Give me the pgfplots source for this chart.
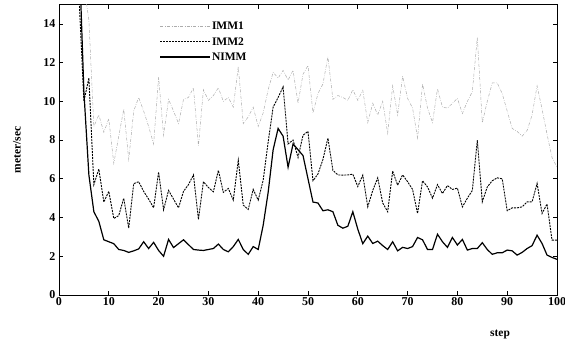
\documentclass[border=0pt]{standalone}
\usepackage{pgfplots}
\usepackage{pgfplotstable}
\pgfplotsset{compat=1.18}
\usepackage{fontspec}
\setmainfont{Liberation Serif}

% speed error of the three filters, per step
\pgfplotstableread{
step imm1 imm2 nimm
1   45    40    45
2   35    30    35
3   26    22    26
4   20    15.5  18
5   16    10.0  10.5
6   14.2  11.2  6.2
7   8.7   5.7   4.3
8   9.3   6.5   3.8
9   8.4   4.8   2.85
10  9.1   5.35  2.75
11  6.8   3.95  2.65
12  8.2   4.1   2.35
13  9.6   5.0   2.3
14  7.0   3.45  2.2
15  9.5   5.75  2.28
16  10.2  5.85  2.38
17  9.5   5.35  2.75
18  8.7   4.95  2.4
19  7.8   4.5   2.72
20  11.25 6.35  2.3
21  8.25  4.4   2.0
22  10.1  5.4   2.87
23  9.5   4.95  2.45
24  8.85  4.5   2.65
25  10.1  5.35  2.85
26  10.2  5.7   2.6
27  10.7  6.2   2.35
28  7.7   3.9   2.32
29  10.6  5.85  2.3
30  10.05 5.55  2.35
31  10.3  5.33  2.4
32  10.7  6.44  2.63
33  10.0  5.3   2.35
34  10.2  5.5   2.23
35  9.7   4.9   2.5
36  11.8  6.96  2.87
37  8.85  4.64  2.35
38  9.2   4.42  2.1
39  9.7   5.45  2.5
40  8.7   4.9   2.35
41  9.4   5.93  3.6
42  10.6  7.9   5.3
43  11.5  9.7   7.5
44  11.2  10.2  8.6
45  11.6  10.75 8.2
46  11.1  7.8   6.6
47  11.6  8.0   7.8
48  9.9   7.1   7.5
49  11.4  8.25  7.2
50  11.85 8.45  6.0
51  9.4   5.9   4.8
52  10.4  6.25  4.75
53  10.9  7.0   4.35
54  12.3  8.1   4.4
55  10.1  6.44  4.3
56  10.3  6.2   3.6
57  10.2  6.19  3.45
58  10.05 6.2   3.55
59  10.6  6.24  4.3
60  10.05 5.6   3.4
61  10.57 6.19  2.65
62  8.9   4.55  3.04
63  9.9   5.4   2.66
64  9.3   6.05  2.78
65  10.0  4.75  2.55
66  8.35  4.3   2.35
67  10.8  6.4   2.75
68  9.3   5.67  2.28
69  11.3  6.2   2.46
70  10.15 5.85  2.4
71  9.65  5.45  2.5
72  8.1   4.21  2.97
73  10.9  5.9   2.85
74  9.65  5.58  2.35
75  8.9   5.0   2.35
76  10.65 5.7   3.14
77  9.7   5.24  2.75
78  9.65  5.65  2.46
79  9.9   5.45  2.97
80  10.15 5.52  2.58
81  9.37  4.55  2.87
82  10.0  5.0   2.32
83  10.5  5.4   2.4
84  13.3  8.0   2.4
85  8.9   4.81  2.7
86  10.0  5.58  2.35
87  10.95 5.9   2.1
88  10.95 6.05  2.18
89  10.4  6.0   2.18
90  9.5   4.35  2.32
91  8.6   4.5   2.28
92  8.45  4.5   2.06
93  8.2   4.55  2.2
94  8.5   4.81  2.4
95  9.3   4.81  2.55
96  10.8  5.76  3.09
97  9.6   4.21  2.66
98  8.3   4.7   2.06
99  7.1   2.83  1.94
100 6.6   2.83  1.84
}\speeddata

\begin{document}
\begin{tikzpicture}
\useasboundingbox (-59pt,-51pt) rectangle (506pt,295pt);
\begin{axis}[
  scale only axis,
  width=498pt, height=290.5pt,
  xmin=0, xmax=100, ymin=0, ymax=15,
  xtick={0,10,...,100},
  ytick={0,2,...,14},
  tick align=inside,
  xtick pos=both, ytick pos=both,
  xticklabel pos=bottom, yticklabel pos=left,
  major tick length=4pt,
  axis line style={line width=0.9pt},
  every tick/.style={line width=0.7pt, black},
  /pgf/number format/assume math mode=true,
  ticklabel style={font=\fontsize{12}{14}\selectfont\bfseries},
  xticklabel style={yshift=1pt},
  xlabel={step},
  ylabel={meter/sec},
  every axis x label/.style={at={([xshift=441pt, yshift=-39pt]axis description cs:0,0)},
    anchor=center, font=\fontsize{11.5}{13}\selectfont\bfseries},
  every axis y label/.style={at={([xshift=-42pt]axis description cs:0,0.5)},
    rotate=90, anchor=center, font=\fontsize{11.5}{13}\selectfont\bfseries},
  legend image code/.code={\draw[#1] (0pt,0pt) -- (50pt,0pt);},
  legend cell align=left,
  legend style={draw=none, fill=none, at={(axis cs:19.6,14.3)}, anchor=north west,
    font=\fontsize{11.5}{13}\selectfont\bfseries,
    nodes={inner sep=1pt, text height=8.5pt, text depth=1pt},
    row sep=4pt},
]
\addplot[gray!65, line width=0.5pt, dash pattern=on 3pt off 1.5pt on 0.6pt off 1.5pt]
  table[x=step, y=imm1] {\speeddata};
\addlegendentry{IMM1}
\addplot[black, line width=0.9pt, dash pattern=on 2pt off 1pt]
  table[x=step, y=imm2] {\speeddata};
\addlegendentry{IMM2}
\addplot[black, line width=1.2pt]
  table[x=step, y=nimm] {\speeddata};
\addlegendentry{NIMM}
\end{axis}
\end{tikzpicture}
\end{document}
